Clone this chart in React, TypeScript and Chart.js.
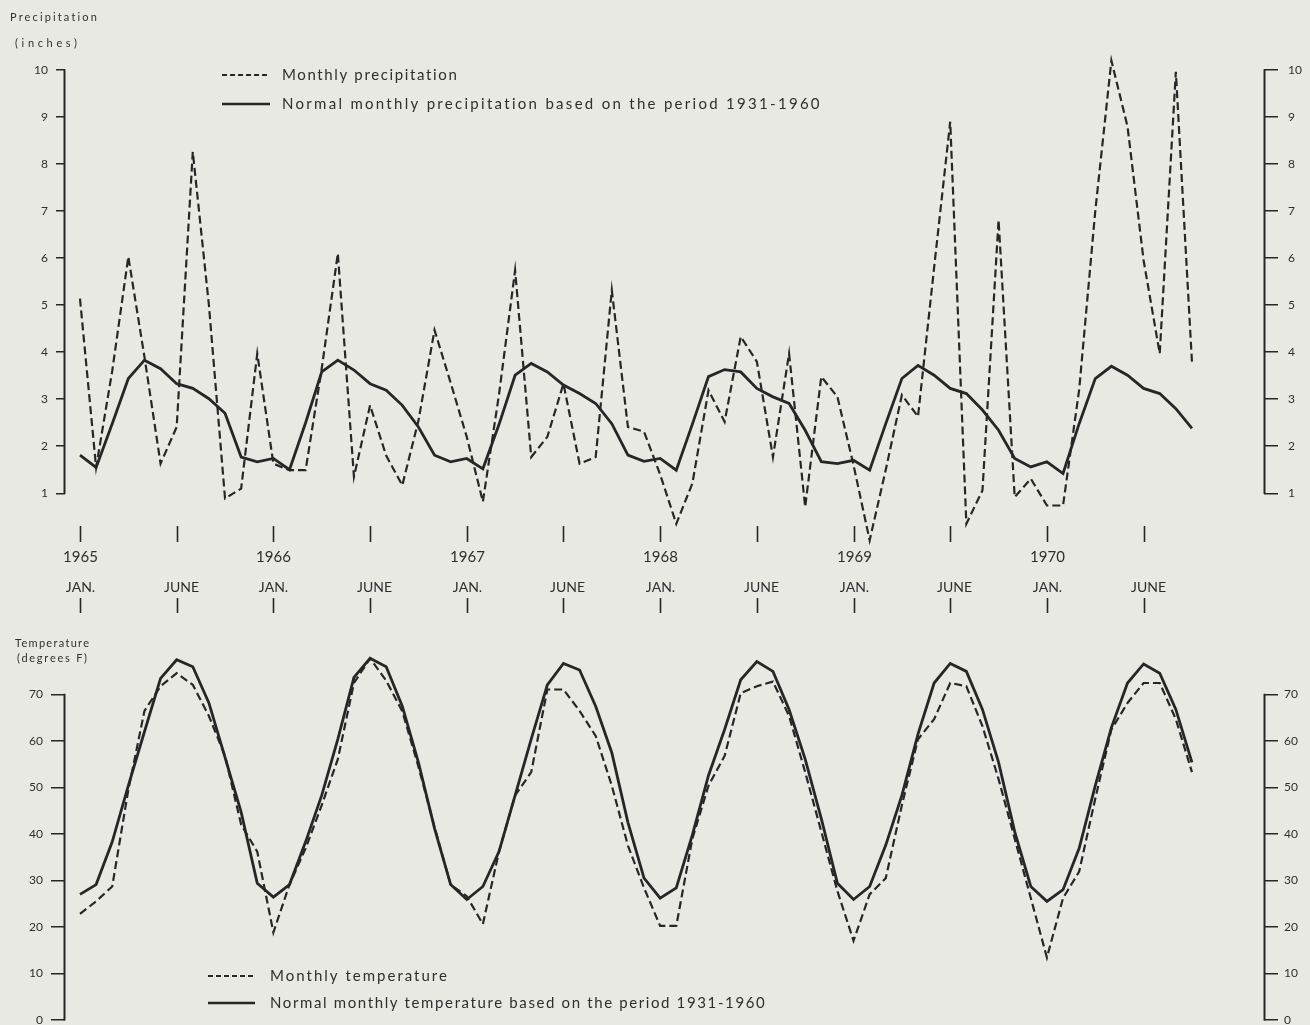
import React, { useEffect, useRef } from 'react';
import { Chart, registerables } from 'chart.js';

Chart.register(...registerables);

// ---------- DATA ----------
const years = ['1965', '1966', '1967', '1968', '1969', '1970'];
const tickMonths = ['JAN.', 'JUNE'];
const precipTicks = [1, 2, 3, 4, 5, 6, 7, 8, 9, 10];
const tempTicks = [0, 10, 20, 30, 40, 50, 60, 70];

// Jan 1965 .. Oct 1970 (70 months)
const monthlyPrecip = [
  5.14, 1.55, 3.6, 6.03, 3.9, 1.63, 2.41, 8.26, 5.0, 0.89, 1.1, 3.97,
  1.63, 1.49, 1.49, 3.65, 6.1, 1.35, 2.87, 1.8, 1.17, 2.54, 4.47, 3.35,
  2.2, 0.82, 3.1, 5.74, 1.77, 2.2, 3.33, 1.63, 1.77, 5.32, 2.41, 2.31,
  1.4, 0.35, 1.21, 3.19, 2.52, 4.33, 3.8, 1.77, 3.97, 0.71, 3.48, 3.05,
  1.6, 0.0, 1.5, 3.09, 2.63, 5.8, 8.9, 0.35, 1.06, 6.81, 0.92, 1.31,
  0.74, 0.74, 3.2, 7.0, 10.2, 8.8, 5.95, 3.97, 9.96, 3.79,
];
const normalPrecip = [
  1.81, 1.55, 2.48, 3.44, 3.83, 3.65, 3.33, 3.23, 3.01, 2.7, 1.77, 1.67,
  1.74, 1.5, 2.5, 3.58, 3.83, 3.62, 3.33, 3.19, 2.87, 2.41, 1.81, 1.67,
  1.74, 1.52, 2.46, 3.51, 3.76, 3.58, 3.3, 3.12, 2.91, 2.48, 1.81, 1.68,
  1.74, 1.49, 2.47, 3.48, 3.63, 3.58, 3.23, 3.05, 2.91, 2.34, 1.67, 1.63,
  1.7, 1.49, 2.48, 3.44, 3.72, 3.51, 3.23, 3.12, 2.77, 2.34, 1.74, 1.56,
  1.67, 1.42, 2.48, 3.44, 3.7, 3.51, 3.23, 3.12, 2.8, 2.38,
];
const monthlyTemp = [
  22.8, 25.5, 28.7, 49.5, 66.5, 71.8, 74.6, 72.1, 65.4, 56.8, 42.0, 36.2,
  18.8, 29.1, 36.9, 46.2, 56.1, 72.5, 77.8, 73.0, 66.4, 54.5, 41.5, 29.1,
  26.6, 20.6, 36.2, 48.3, 53.3, 71.1, 71.1, 66.5, 61.1, 50.4, 37.5, 28.4,
  20.2, 20.2, 39.0, 50.4, 56.8, 70.3, 71.8, 72.8, 65.4, 53.3, 40.5, 27.7,
  17.0, 27.0, 30.5, 46.2, 60.4, 64.7, 72.5, 71.8, 63.2, 51.8, 39.0, 26.2,
  13.4, 26.2, 31.9, 47.6, 62.5, 68.2, 72.5, 72.5, 64.7, 53.3,
];
const normalTemp = [
  27.0, 29.1, 38.3, 50.4, 62.0, 73.5, 77.5, 76.0, 68.2, 56.5, 44.7, 29.4,
  26.4, 29.1, 38.3, 48.3, 60.4, 73.7, 77.8, 76.0, 67.5, 55.4, 41.2, 29.1,
  25.9, 28.7, 36.2, 48.3, 60.4, 72.1, 76.7, 75.3, 67.5, 57.5, 42.5, 30.5,
  26.2, 28.4, 39.8, 52.6, 62.5, 73.2, 77.1, 75.0, 66.8, 56.1, 43.3, 29.4,
  25.9, 28.7, 37.6, 48.3, 61.5, 72.5, 76.7, 75.0, 66.8, 55.4, 40.5, 28.7,
  25.5, 28.0, 36.9, 50.4, 62.9, 72.5, 76.6, 74.6, 66.8, 55.4,
];

// ---------- STYLE ----------
const INK = '#262626';
const TEXT = '#2e2e2e';
const BG = '#e9e9e4';
const FONT = 'Lato, "DejaVu Sans", sans-serif';

const toPts = (arr: number[]) => arr.map((v, i) => ({ x: i, y: v }));

function drawFit(ctx: CanvasRenderingContext2D, text: string, x: number, y: number, target?: number) {
  (ctx as any).letterSpacing = '0px';
  if (target && text.length > 1) {
    const w = ctx.measureText(text).width;
    const sp = (target - w) / (text.length - 1);
    (ctx as any).letterSpacing = sp.toFixed(2) + 'px';
  }
  ctx.fillText(text, x, y);
  (ctx as any).letterSpacing = '0px';
}

function xScale() {
  return { type: 'linear', min: -0.93, max: 73.47, display: false };
}

function yScale(position: string, ticks: number[], min: number, max: number, width: number, tickLength: number, padding: number) {
  return {
    type: 'linear',
    position,
    min,
    max,
    afterBuildTicks: (s: any) => {
      s.ticks = ticks.map((v) => ({ value: v }));
    },
    afterFit: (s: any) => {
      s.width = width;
    },
    grid: { drawOnChartArea: false, drawTicks: true, tickLength, color: INK, lineWidth: 1.5 },
    border: { display: false },
    ticks: {
      color: TEXT,
      font: { family: FONT, size: 12 },
      padding,
      callback: (v: any) => String(v),
    },
  };
}

function lineDatasets(monthly: number[], normal: number[], yL: string, l1: string, l2: string) {
  return [
    {
      label: l1,
      data: toPts(monthly),
      yAxisID: yL,
      borderColor: INK,
      borderWidth: 2.2,
      borderDash: [8, 4],
      pointRadius: 0,
      tension: 0,
      clip: false,
      fill: false,
    },
    {
      label: l2,
      data: toPts(normal),
      yAxisID: yL,
      borderColor: INK,
      borderWidth: 2.8,
      pointRadius: 0,
      tension: 0,
      clip: false,
      fill: false,
    },
  ];
}

function drawAxisLines(chart: any, from: number, to: number) {
  const ctx = chart.ctx;
  const yl = chart.scales.yL;
  const area = chart.chartArea;
  const yTop = yl.getPixelForValue(to) - 0.75;
  const yBot = yl.getPixelForValue(from) + 0.75;
  ctx.save();
  ctx.strokeStyle = INK;
  ctx.lineWidth = 2;
  ctx.setLineDash([]);
  ctx.beginPath();
  ctx.moveTo(area.left - 0.5, yTop);
  ctx.lineTo(area.left - 0.5, yBot);
  ctx.moveTo(area.right + 0.5, yTop);
  ctx.lineTo(area.right + 0.5, yBot);
  ctx.stroke();
  ctx.restore();
}

function drawLegend(ctx: CanvasRenderingContext2D, x0: number, x1: number, tx: number, y1: number, y2: number, t1: string, t2: string, w1: number, w2: number, size: number) {
  ctx.save();
  ctx.strokeStyle = INK;
  ctx.lineWidth = 2;
  ctx.setLineDash([5, 3]);
  ctx.beginPath();
  ctx.moveTo(x0, y1);
  ctx.lineTo(x1, y1);
  ctx.stroke();
  ctx.setLineDash([]);
  ctx.lineWidth = 2.6;
  ctx.beginPath();
  ctx.moveTo(x0, y2);
  ctx.lineTo(x1, y2);
  ctx.stroke();
  ctx.fillStyle = TEXT;
  ctx.font = `${size}px ${FONT}`;
  ctx.textBaseline = 'middle';
  ctx.textAlign = 'left';
  drawFit(ctx, t1, tx, y1, w1);
  drawFit(ctx, t2, tx, y2, w2);
  ctx.restore();
}

const TOP_H = 630;

const topPlugin = {
  id: 'topDecor',
  afterDraw(chart: any) {
    const ctx = chart.ctx;
    drawAxisLines(chart, 1, 10);
    ctx.save();
    ctx.fillStyle = TEXT;
    ctx.textBaseline = 'middle';
    ctx.textAlign = 'left';
    ctx.font = `11px ${FONT}`;
    drawFit(ctx, 'Precipitation', 10, 17, 87);
    drawFit(ctx, '(inches)', 15, 43, 62);
    ctx.restore();
    drawLegend(
      ctx, 222, 270, 282, 75, 104,
      'Monthly precipitation',
      'Normal monthly precipitation based on the period 1931-1960',
      175, 538, 15
    );
    // month / year labels between the panels
    const xs = chart.scales.x;
    ctx.save();
    ctx.strokeStyle = INK;
    ctx.fillStyle = TEXT;
    ctx.lineWidth = 1.6;
    ctx.textAlign = 'center';
    ctx.textBaseline = 'middle';
    years.forEach((yr, k) => {
      [0, 6].forEach((off, j) => {
        const xp = Math.round(xs.getPixelForValue(12 * k + off)) + 0.5;
        ctx.beginPath();
        ctx.moveTo(xp, 526);
        ctx.lineTo(xp, 542);
        ctx.moveTo(xp, 598);
        ctx.lineTo(xp, 613);
        ctx.stroke();
        if (j === 0) {
          ctx.font = `15px ${FONT}`;
          drawFit(ctx, yr, xp, 557);
        }
        ctx.font = `14px ${FONT}`;
        drawFit(ctx, tickMonths[j], xp + (j === 0 ? 0 : 4), 587);
      });
    });
    ctx.restore();
  },
};

const bottomPlugin = {
  id: 'bottomDecor',
  afterDraw(chart: any) {
    const ctx = chart.ctx;
    drawAxisLines(chart, 0, 70);
    ctx.save();
    ctx.fillStyle = TEXT;
    ctx.textBaseline = 'middle';
    ctx.textAlign = 'left';
    ctx.font = `11px ${FONT}`;
    drawFit(ctx, 'Temperature', 15, 643 - TOP_H, 74);
    drawFit(ctx, '(degrees F)', 17, 658 - TOP_H, 70);
    ctx.restore();
    drawLegend(
      ctx, 208, 255, 270, 976 - TOP_H, 1003 - TOP_H,
      'Monthly temperature',
      'Normal monthly temperature based on the period 1931-1960',
      177, 495, 15
    );
  },
};

export default function App() {
  const topRef = useRef<HTMLCanvasElement>(null);
  const botRef = useRef<HTMLCanvasElement>(null);

  useEffect(() => {
    document.body.style.margin = '0';
    document.body.style.background = BG;

    const top = new Chart(topRef.current as HTMLCanvasElement, {
      type: 'line',
      data: {
        datasets: lineDatasets(
          monthlyPrecip, normalPrecip, 'yL',
          'Monthly precipitation',
          'Normal monthly precipitation based on the period 1931-1960'
        ) as any,
      },
      options: {
        animation: false,
        responsive: false,
        devicePixelRatio: 1,
        layout: { padding: { top: 70, bottom: TOP_H - 545, left: 0, right: 0 } },
        plugins: { legend: { display: false }, tooltip: { enabled: false } },
        scales: {
          x: xScale(),
          yL: yScale('left', precipTicks, -0.1, 10, 65, 9, 8),
          yR: yScale('right', precipTicks, -0.1, 10, 46, 14, 10),
        } as any,
      },
      plugins: [topPlugin],
    } as any);

    const bottom = new Chart(botRef.current as HTMLCanvasElement, {
      type: 'line',
      data: {
        datasets: lineDatasets(
          monthlyTemp, normalTemp, 'yL',
          'Monthly temperature',
          'Normal monthly temperature based on the period 1931-1960'
        ) as any,
      },
      options: {
        animation: false,
        responsive: false,
        devicePixelRatio: 1,
        layout: { padding: { top: 650 - TOP_H, bottom: 12, left: 0, right: 0 } },
        plugins: { legend: { display: false }, tooltip: { enabled: false } },
        scales: {
          x: xScale(),
          yL: yScale('left', tempTicks, 0, 79.6, 65, 14, 8),
          yR: yScale('right', tempTicks, 0, 79.6, 46, 14, 6),
        } as any,
      },
      plugins: [bottomPlugin],
    } as any);

    return () => {
      top.destroy();
      bottom.destroy();
    };
  }, []);

  return (
    <div style={{ width: 1310, background: BG }}>
      <canvas ref={topRef} width={1310} height={TOP_H} style={{ display: 'block' }} />
      <canvas ref={botRef} width={1310} height={1035 - TOP_H} style={{ display: 'block' }} />
    </div>
  );
}
